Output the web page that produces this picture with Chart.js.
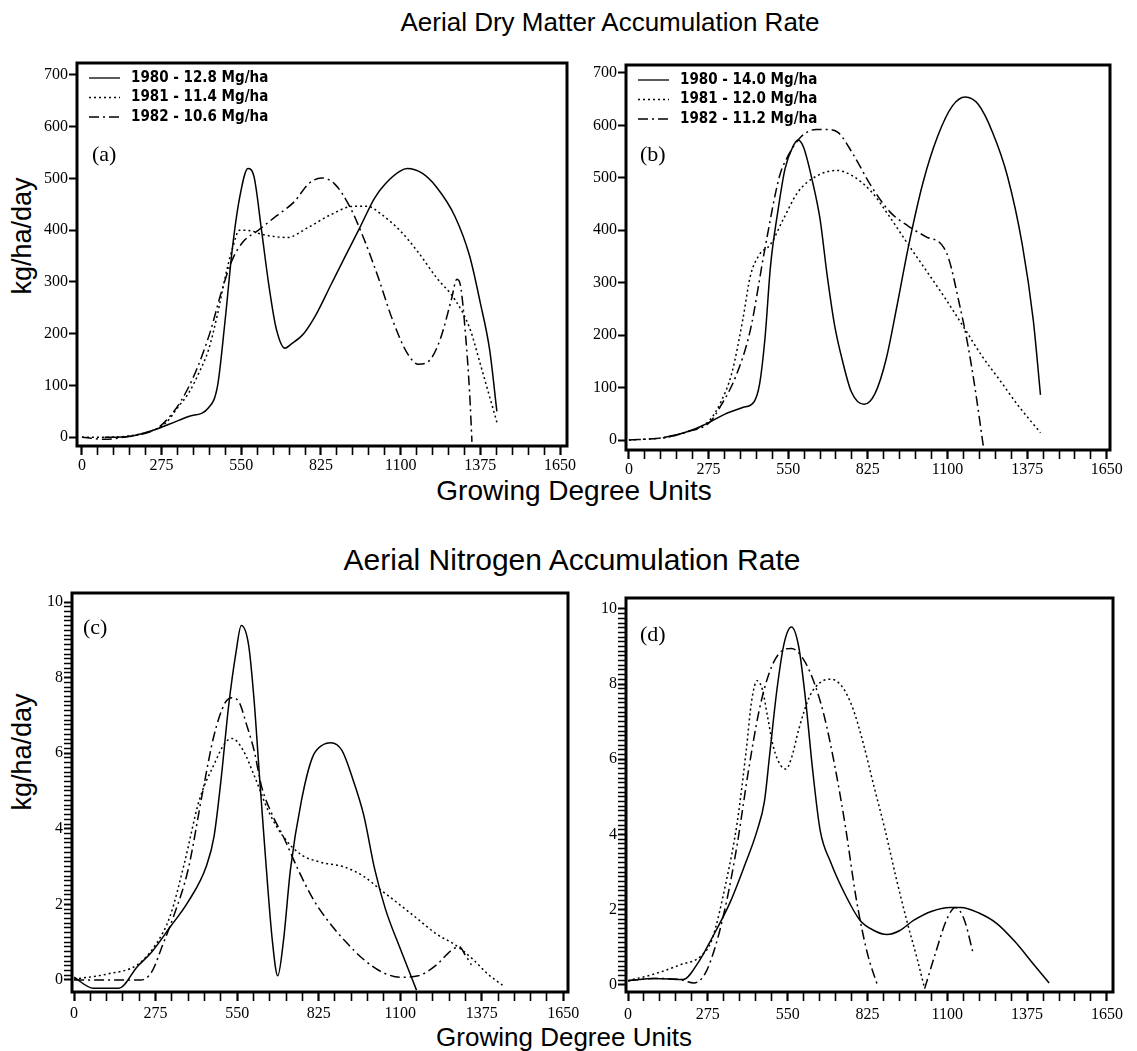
<!DOCTYPE html>
<html>
<head>
<meta charset="utf-8">
<script src="https://cdn.jsdelivr.net/npm/chart.js@4.4.1/dist/chart.umd.min.js"></script>
<style>
  html, body { margin:0; padding:0; background:#fff; }
  body { width:1137px; height:1051px; position:relative; overflow:hidden; }
  canvas { position:absolute; }
  .t { position:absolute; font-family:"Liberation Sans", Arial, sans-serif; color:#000; white-space:nowrap; }
</style>
</head>
<body>
<div class="t" id="title1" style="left:610px; top:22px; font-size:26px; transform:translate(-50%,-50%);">Aerial Dry Matter Accumulation Rate</div>
<div class="t" id="xt1" style="left:574px; top:491px; font-size:28px; transform:translate(-50%,-50%);">Growing Degree Units</div>
<div class="t" id="title2" style="left:572px; top:560px; font-size:30px; transform:translate(-50%,-50%);">Aerial Nitrogen Accumulation Rate</div>
<div class="t" id="xt2" style="left:564px; top:1037px; font-size:26px; transform:translate(-50%,-50%);">Growing Degree Units</div>
<div class="t" id="yt1" style="left:22px; top:236px; font-size:27px; transform:translate(-50%,-50%) rotate(-90deg);">kg/ha/day</div>
<div class="t" id="yt2" style="left:22px; top:752px; font-size:27px; transform:translate(-50%,-50%) rotate(-90deg);">kg/ha/day</div>
<script>
// ---------- data ----------
const years = ['1980', '1981', '1982'];
const legendA = ['1980 - 12.8 Mg/ha', '1981 - 11.4 Mg/ha', '1982 - 10.6 Mg/ha'];
const legendB = ['1980 - 14.0 Mg/ha', '1981 - 12.0 Mg/ha', '1982 - 11.2 Mg/ha'];
const xTickLabels = [0, 275, 550, 825, 1100, 1375, 1650];
const yTicksDM = [0, 100, 200, 300, 400, 500, 600, 700];
const yTicksN = [0, 2, 4, 6, 8, 10];

// (a) dry matter
const gduA1980 = [78,154,254,305,368,437,468,494,519,544,573,594,620,645,670,701,720,765,809,859,909,960,1010,1048,1098,1123,1174,1224,1287,1338,1375,1407,1432];
const dmA1980  = [0,1,15,26,40,57,99,225,364,462,519,503,399,294,211,172,179,200,238,294,350,406,462,490,514,519,510,483,427,350,259,169,50];
const gduA1981 = [0,78,154,254,292,330,368,406,437,468,494,519,544,582,620,708,783,859,935,985,1035,1098,1161,1224,1287,1338,1375,1407,1432];
const dmA1981  = [0,0,2,15,29,57,85,127,169,238,308,364,400,399,392,386,406,430,446,446,430,399,357,308,266,211,141,78,29];
const gduA1982 = [0,78,154,254,292,343,393,443,481,519,557,607,670,733,783,827,871,922,972,1023,1073,1123,1161,1199,1237,1275,1294,1306,1325,1338,1346];
const dmA1982  = [0,-4,1,15,33,71,127,204,280,343,378,399,427,455,490,501,490,448,385,308,225,162,141,148,190,266,305,294,190,85,-9];

// (b) dry matter
const gduB1980 = [121,178,228,279,330,393,431,451,470,489,514,539,565,584,603,635,660,685,711,736,768,812,850,888,926,964,1015,1066,1117,1161,1206,1256,1307,1358,1396,1421];
const dmB1980  = [5,12,21,34,49,62,72,106,195,332,435,517,558,572,558,490,421,312,216,154,92,68,89,154,257,366,490,579,637,654,640,586,503,373,229,86];
const gduB1981 = [0,127,203,279,317,355,393,419,450,489,533,584,647,717,774,838,901,964,1028,1091,1155,1218,1282,1345,1421];
const dmB1981  = [0,5,16,38,72,127,229,312,353,373,421,473,503,514,503,473,425,373,322,271,216,161,113,65,14];
const gduB1982 = [0,127,203,279,317,368,419,470,520,546,596,647,685,723,774,838,901,964,1028,1079,1104,1142,1168,1193,1225];
const dmB1982  = [0,5,16,34,65,120,209,366,503,538,579,592,592,586,545,483,435,408,387,373,346,257,188,106,-17];

// (c) nitrogen
const gduC1980 = [0,65,151,213,262,324,385,447,472,496,521,546,564,589,607,626,644,669,687,706,730,767,804,841,866,903,940,977,1014,1050,1100,1155];
const nC1980   = [0.07,-0.22,-0.22,0.35,0.74,1.40,2.07,3.03,3.79,5.32,7.23,8.66,9.38,8.85,7.42,5.32,3.41,1.02,0.11,1.02,2.93,4.75,5.89,6.23,6.28,6.08,5.32,4.36,2.93,1.88,0.83,-0.27];
const gduC1981 = [0,115,213,275,324,373,422,472,509,533,570,607,656,706,767,829,915,977,1038,1100,1161,1223,1285,1346,1395,1445];
const nC1981   = [0.02,0.16,0.4,0.93,1.69,3.12,4.75,5.7,6.27,6.39,6.08,5.42,4.46,3.79,3.31,3.12,2.98,2.74,2.36,1.98,1.6,1.21,0.93,0.54,0.16,-0.14];
const gduC1982 = [0,115,225,262,299,336,385,435,472,509,533,558,582,607,632,669,706,755,804,853,915,977,1038,1100,1161,1223,1272,1299,1321,1340];
const nC1982   = [0,0,0,0.21,0.93,1.69,2.93,5.03,6.47,7.33,7.47,7.33,6.75,6.08,5.13,4.36,3.79,2.93,2.17,1.6,1.02,0.54,0.21,0.07,0.11,0.4,0.78,0.88,0.64,0.4];

// (d) nitrogen
const gduD1980 = [0,91,190,240,289,352,401,445,470,488,513,538,563,588,612,637,662,699,749,799,849,892,935,985,1047,1109,1147,1209,1271,1333,1395,1451];
const nD1980   = [0.11,0.17,0.14,0.57,1.24,2.2,3.16,4.11,4.88,6.12,7.85,9.09,9.52,9.0,7.56,5.65,4.11,3.25,2.39,1.72,1.44,1.34,1.44,1.72,1.96,2.06,2.06,1.91,1.63,1.15,0.57,0.05];
const gduD1981 = [0,91,178,252,289,339,376,407,426,445,463,482,501,526,544,563,588,625,662,699,737,774,811,848,886,923,960,997,1022];
const nD1981   = [0.11,0.29,0.53,0.77,1.2,2.78,4.31,6.22,7.56,8.09,7.85,7.08,6.32,5.84,5.74,6.03,6.79,7.66,8.04,8.13,7.94,7.37,6.41,5.26,4.11,2.87,1.72,0.67,-0.1];
const gduD1982 = [0,91,178,227,265,302,339,376,414,451,488,525,563,600,637,675,712,749,786,824,861,940,1022,1060,1097,1128,1159,1190];
const nD1982   = [0.11,0.17,0.14,0.05,0.29,1.05,2.2,3.73,5.65,7.27,8.33,8.85,8.95,8.71,8.13,7.18,5.84,4.21,2.3,0.86,-0.05,null,-0.1,0.86,1.72,2.06,1.72,0.81];

// ---------- styles ----------
const dashes = [[], [2, 3], [10, 4, 2, 4]];
const widths = [1.5, 1.5, 1.5];

// ---------- helpers ----------
const Y_W = 70, PAD_T = 25, PAD_R = 15, X_H = 60;

function pairs(xs, ys) { return xs.map((x, i) => ({ x: x, y: ys[i] })); }

const framePlugin = {
  id: 'frame',
  afterDraw(chart) {
    const a = chart.chartArea, ctx = chart.ctx, o = chart.options.plugins.frame;
    ctx.save();
    ctx.strokeStyle = '#000';
    ctx.lineWidth = 3;
    ctx.strokeRect(a.left, a.top, a.right - a.left, a.bottom - a.top);
    ctx.fillStyle = '#000';
    ctx.font = '22px "Liberation Serif", serif';
    ctx.textBaseline = 'middle';
    ctx.textAlign = 'left';
    ctx.fillText(o.letter, a.left + o.letterDx, a.top + o.letterDy);
    if (o.legend) {
      chart.data.datasets.forEach((ds, i) => {
        const y = a.top + 15 + i * 19.5;
        ctx.beginPath();
        ctx.setLineDash(ds.borderDash || []);
        ctx.lineWidth = 1.3;
        ctx.moveTo(a.left + 12, y);
        ctx.lineTo(a.left + 43, y);
        ctx.stroke();
        ctx.setLineDash([]);
        ctx.font = 'bold 15px "DejaVu Sans Condensed", "DejaVu Sans", sans-serif';
        ctx.fillText(ds.label, a.left + 54, y);
      });
    }
    ctx.restore();
  }
};

function makePanel(box, xr, yr, series, labels, yMajor, yMinorStep, letter, letterDx, letterDy, legend, xPad) {
  const cv = document.createElement('canvas');
  const w = (box.R - box.L) + Y_W + PAD_R;
  const h = (box.B - box.T) + PAD_T + X_H;
  cv.width = w; cv.height = h;
  cv.style.left = (box.L - Y_W) + 'px';
  cv.style.top = (box.T - PAD_T) + 'px';
  cv.style.width = w + 'px'; cv.style.height = h + 'px';
  document.body.appendChild(cv);

  const xMinor = [];
  for (let v = 0; v <= 1650; v += 55) xMinor.push(v);
  const yMinor = [];
  for (let v = 0; v <= yMajor[yMajor.length - 1] + 1e-9; v += yMinorStep) yMinor.push(Math.round(v * 1000) / 1000);

  const tickFont = { family: '"Liberation Serif", serif', size: 16 };

  new Chart(cv, {
    type: 'line',
    data: {
      datasets: series.map((s, i) => ({
        label: labels ? labels[i] : years[i],
        data: pairs(s[0], s[1]),
        borderColor: '#000',
        borderWidth: widths[i],
        borderDash: dashes[i],
        pointRadius: 0,
        fill: false,
        cubicInterpolationMode: 'monotone',
        spanGaps: false
      }))
    },
    options: {
      responsive: false,
      animation: false,
      devicePixelRatio: 1,
      layout: { padding: { left: 0, top: PAD_T, right: PAD_R, bottom: 0 } },
      plugins: {
        legend: { display: false },
        tooltip: { enabled: false },
        frame: { letter: letter, letterDx: letterDx, letterDy: letterDy, legend: legend }
      },
      scales: {
        x: {
          type: 'linear', min: xr[0], max: xr[1],
          afterFit: s => { s.height = X_H; },
          afterBuildTicks: s => { s.ticks = xMinor.map(v => ({ value: v })); },
          ticks: {
            autoSkip: false, maxRotation: 0, minRotation: 0, color: '#000', font: tickFont, padding: xPad,
            callback: v => xTickLabels.includes(v) ? String(v) : ''
          },
          grid: { drawOnChartArea: false, drawTicks: true, tickLength: 9, tickColor: '#000',
                  tickWidth: c => (c.tick && xTickLabels.includes(c.tick.value)) ? 2.2 : 1.6 },
          border: { display: false }
        },
        y: {
          type: 'linear', min: yr[0], max: yr[1],
          afterFit: s => { s.width = Y_W; },
          afterBuildTicks: s => { s.ticks = yMinor.map(v => ({ value: v })); },
          ticks: {
            autoSkip: false, color: '#000', font: tickFont, padding: 1,
            callback: v => yMajor.includes(v) ? String(v) : ''
          },
          grid: { drawOnChartArea: false, drawTicks: true, tickLength: 8, tickColor: '#000',
                  tickWidth: c => (c.tick && yMajor.includes(c.tick.value)) ? 2 : 1.5 },
          border: { display: false }
        }
      }
    },
    plugins: [framePlugin]
  });
}

makePanel({ L: 77, R: 567, T: 63, B: 446 }, [-17, 1674], [-17, 723],
  [[gduA1980, dmA1980], [gduA1981, dmA1981], [gduA1982, dmA1982]], legendA, yTicksDM, 100, '(a)', 15, 92, true, 1);
makePanel({ L: 626, R: 1110, T: 65, B: 450 }, [-10, 1661], [-19, 715],
  [[gduB1980, dmB1980], [gduB1981, dmB1981], [gduB1982, dmB1982]], legendB, yTicksDM, 100, '(b)', 14, 90, true, 1);
makePanel({ L: 72, R: 568, T: 593, B: 992 }, [-7, 1666], [-0.32, 10.24],
  [[gduC1980, nC1980], [gduC1981, nC1981], [gduC1982, nC1982]], null, yTicksN, 0.125, '(c)', 11, 35, false, 3);
makePanel({ L: 626, R: 1113, T: 598, B: 992 }, [-7, 1671], [-0.19, 10.29],
  [[gduD1980, nD1980], [gduD1981, nD1981], [gduD1982, nD1982]], null, yTicksN, 0.125, '(d)', 14, 37, false, 4);
</script>
</body>
</html>
